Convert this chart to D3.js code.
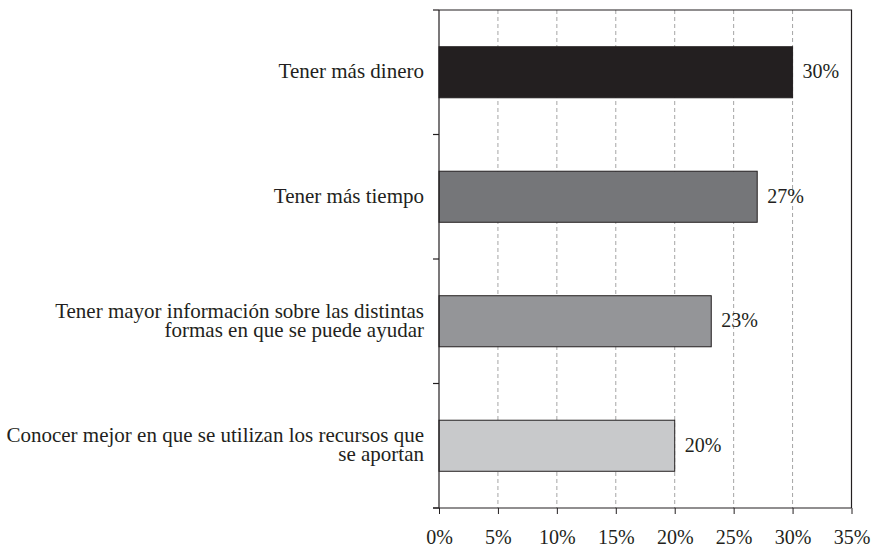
<!doctype html>
<html lang=en>
<head>
<meta charset=utf-8>
<title>Bar chart</title>
<script src="https://d3js.org/d3.v7.min.js"></script>
<style>
  body { margin: 0; background: #fff; }
  text { font-family: "Liberation Serif", "Times New Roman", serif; fill: #231f20; }
</style>
</head>
<body>
<div id="container"></div>
<script>
    // data
    var categories = [
        "Tener más dinero",
        "Tener más tiempo",
        "Tener mayor información sobre las distintas\nformas en que se puede ayudar",
        "Conocer mejor en que se utilizan los recursos que\nse aportan"
    ];
    var values = [30, 27, 23.1, 20];
    var valueLabels = ["30%", "27%", "23%", "20%"];
    var barColors = ["#231f20", "#757679", "#949598", "#c8c9cb"];
    var xTicks = [0, 5, 10, 15, 20, 25, 30, 35];

    var w = 871, h = 549;
    var plotL = 439, plotR = 851.5, plotT = 10, plotB = 508;

    var svg = d3.select("#container").append("svg")
        .attr("width", w).attr("height", h);

    var x = d3.scaleLinear().domain([0, 35]).range([plotL, plotR]);
    var y = d3.scaleBand().domain(categories).range([plotT, plotB])
        .paddingInner(0.59).paddingOuter(0.295);

    // dashed grid
    svg.selectAll("line.grid")
        .data(xTicks.slice(1, -1))
        .enter().append("line")
        .attr("class", "grid")
        .attr("x1", function(d) { return x(d); })
        .attr("x2", function(d) { return x(d); })
        .attr("y1", plotT).attr("y2", plotB)
        .attr("stroke", "#a5a5a5").attr("stroke-width", 1)
        .attr("stroke-dasharray", "4,3");

    // plot border (top + right)
    svg.append("path")
        .attr("d", "M" + plotL + "," + plotT + "H" + plotR + "V" + plotB)
        .attr("fill", "none").attr("stroke", "#231f20").attr("stroke-width", 1.2);

    // bars
    svg.selectAll("rect.bar")
        .data(values)
        .enter().append("rect")
        .attr("class", "bar")
        .attr("x", x(0))
        .attr("y", function(d, i) { return y(categories[i]); })
        .attr("width", function(d) { return x(d) - x(0); })
        .attr("height", y.bandwidth())
        .attr("fill", function(d, i) { return barColors[i]; })
        .attr("stroke", "#231f20").attr("stroke-width", 1);

    // value labels
    svg.selectAll("text.val")
        .data(values)
        .enter().append("text")
        .attr("class", "val")
        .attr("x", function(d) { return x(d) + 10; })
        .attr("y", function(d, i) { return y(categories[i]) + y.bandwidth() / 2 + 6; })
        .style("font-size", "20px")
        .text(function(d, i) { return valueLabels[i]; });

    // x axis
    var xAxis = svg.append("g")
        .attr("transform", "translate(0," + plotB + ")")
        .call(d3.axisBottom(x).tickValues(xTicks)
            .tickFormat(function(d) { return d + "%"; })
            .tickSizeInner(6).tickSizeOuter(0).tickPadding(16));
    xAxis.select(".domain").attr("d", "M" + (plotL - 6) + ",0H" + plotR)
        .attr("stroke", "#231f20").attr("stroke-width", 1.2);
    xAxis.selectAll(".tick line").attr("stroke", "#231f20");
    xAxis.selectAll("text").style("font-size", "20px")
        .style("font-family", "Liberation Serif").attr("fill", "#231f20");

    // y axis line with boundary ticks
    svg.append("line")
        .attr("x1", plotL).attr("x2", plotL).attr("y1", plotT).attr("y2", plotB)
        .attr("stroke", "#231f20").attr("stroke-width", 1.2);
    svg.selectAll("line.ytick")
        .data(d3.range(categories.length + 1))
        .enter().append("line")
        .attr("class", "ytick")
        .attr("x1", plotL - 6).attr("x2", plotL)
        .attr("y1", function(i) { return plotT + i * y.step(); })
        .attr("y2", function(i) { return plotT + i * y.step(); })
        .attr("stroke", "#231f20").attr("stroke-width", 1.2);

    // category labels
    var lineH = 19;
    svg.selectAll("text.cat")
        .data(categories)
        .enter().append("text")
        .attr("class", "cat")
        .attr("text-anchor", "end")
        .style("font-size", "21px")
        .each(function(d) {
            var lines = d.split("\n");
            var cy = y(d) + y.bandwidth() / 2;
            var t = d3.select(this);
            lines.forEach(function(s, k) {
                t.append("tspan")
                    .attr("x", plotL - 15)
                    .attr("y", cy + (k - (lines.length - 1) / 2) * lineH + 6)
                    .text(s);
            });
        });
</script>
</body>
</html>
